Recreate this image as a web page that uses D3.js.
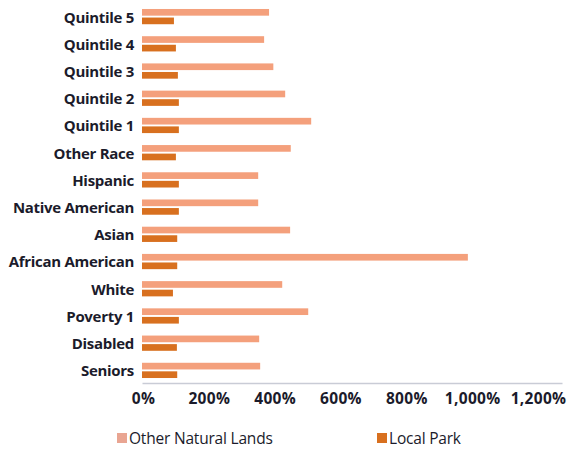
<!DOCTYPE html>
<html>
<head>
<meta charset="utf-8">
<script src="https://cdn.jsdelivr.net/npm/d3@7"></script>
<style>
  html, body { margin: 0; padding: 0; background: #fff; }
  svg { display: block; }
</style>
</head>
<body>
<svg id="chart" width="569" height="449"></svg>
<script>
// Categories, top to bottom
const categories = [
  "Quintile 5", "Quintile 4", "Quintile 3", "Quintile 2", "Quintile 1",
  "Other Race", "Hispanic", "Native American", "Asian", "African American",
  "White", "Poverty 1", "Disabled", "Seniors"
];
// Percent values per series
const otherNaturalLands = [386, 371, 399, 435, 514, 452, 353, 353, 450, 990, 426, 505, 356, 359];
const localPark        = [ 97, 103, 109, 112, 112, 103, 112, 112, 107, 107,  94, 112, 106, 107];
const seriesNames = ["Other Natural Lands", "Local Park"];
const tickValues = [0, 200, 400, 600, 800, 1000, 1200];

const colors = { bar0: "#F4A07C", bar1: "#D8701F", legend0: "#E9A592", legend1: "#D8701F" };

const svg = d3.select("#chart");
const font = "'Open Sans', 'DejaVu Sans', sans-serif";

const x = d3.scaleLinear().domain([0, 1276]).range([142, 562]);
const y = d3.scaleBand().domain(categories).range([3, 384]).paddingInner(0.44).paddingOuter(0.22);
const sub = d3.scaleBand().domain(seriesNames).range([0, y.bandwidth()]).paddingInner(0.22);

const rows = categories.map((c, i) => ({ cat: c, vals: [otherNaturalLands[i], localPark[i]] }));

const g = svg.append("g");
const row = g.selectAll("g.row").data(rows).join("g")
  .attr("class", "row")
  .attr("transform", d => `translate(0,${y(d.cat)})`);

row.selectAll("rect").data(d => d.vals.map((v, k) => ({ v, k }))).join("rect")
  .attr("x", x(0))
  .attr("y", d => sub(seriesNames[d.k]))
  .attr("height", sub.bandwidth())
  .attr("width", d => x(d.v) - x(0))
  .attr("fill", d => d.k === 0 ? colors.bar0 : colors.bar1);

// Category labels
g.selectAll("text.cat").data(categories).join("text")
  .attr("class", "cat")
  .attr("x", 134)
  .attr("y", d => y(d) + y.bandwidth() / 2 + 0.5)
  .attr("dy", "0.36em")
  .attr("text-anchor", "end")
  .attr("font-family", font)
  .attr("font-weight", 700)
  .attr("font-size", 15)
  .attr("letter-spacing", "-0.3")
  .attr("fill", "#1b1b2b")
  .text(d => d);

// X axis
const axis = d3.axisBottom(x)
  .tickValues(tickValues)
  .tickSize(0)
  .tickPadding(10)
  .tickFormat(d => d3.format(",")(d) + "%");

const ax = svg.append("g").attr("transform", "translate(0,383)").call(axis);
ax.select(".domain").attr("stroke", "#c9ccd6").attr("stroke-width", 1.5);
ax.selectAll(".tick text")
  .attr("font-family", font)
  .attr("font-weight", 700)
  .attr("font-size", 15.5)
  .attr("letter-spacing", "0.3")
  .attr("dx", 1)
  .attr("fill", "#1b1b2b");

// Legend
const legendItems = [
  { name: seriesNames[0], color: colors.legend0, x: 117 },
  { name: seriesNames[1], color: colors.legend1, x: 377 }
];
const lg = svg.append("g").selectAll("g").data(legendItems).join("g")
  .attr("transform", d => `translate(${d.x},438)`);
lg.append("rect").attr("x", 0).attr("y", -5).attr("width", 10).attr("height", 10).attr("fill", d => d.color);
lg.append("text")
  .attr("x", 12).attr("y", 0).attr("dy", "0.36em")
  .attr("font-family", font)
  .attr("font-size", 15.5)
  .attr("letter-spacing", "-0.2")
  .attr("fill", "#1b1b2b")
  .text(d => d.name);
</script>
</body>
</html>
